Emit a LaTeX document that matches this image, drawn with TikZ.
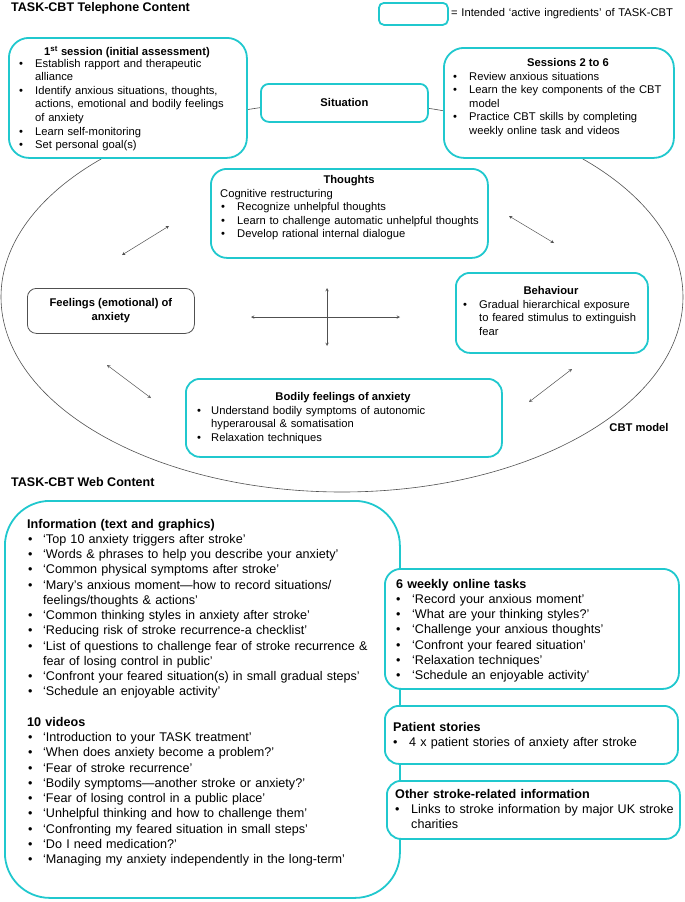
\documentclass[tikz,border=0pt]{standalone}
\usepackage{fontspec}
\setmainfont{Liberation Sans}
\definecolor{ingred}{RGB}{32,200,206}
\definecolor{lineg}{RGB}{80,80,80}
\newlength{\bind}\setlength{\bind}{16pt}
\newlength{\bpad}\setlength{\bpad}{0pt}
\newcommand{\bitem}[1]{\noindent\hangindent=\bind\hangafter=1\makebox[\bind][l]{\hspace{\bpad}\textbullet}#1\par}
\tikzset{
  ingr/.style={draw=ingred, line width=1.8pt, fill=white, anchor=north west, inner sep=0pt},
  plainbox/.style={draw=lineg, line width=0.8pt, fill=white, anchor=north west, inner sep=0pt},
  head/.style={anchor=base west, inner sep=0pt, font=\fontsize{12.5}{15}\selectfont\bfseries},
  teltxt/.style={anchor=base west, inner sep=0pt, text width=235pt, execute at begin node=\raggedright, font=\fontsize{11.2}{13.6}\selectfont},
  telhead/.style={anchor=base, inner sep=0pt, font=\fontsize{11.2}{13.6}\selectfont\bfseries},
  webtxt/.style={anchor=base west, inner sep=0pt, text width=290pt, execute at begin node=\raggedright, font=\fontsize{12.6}{15.25}\selectfont},
  dbl/.style={<->, lineg, line width=0.5pt}
}
\begin{document}
\begin{tikzpicture}[x=1pt,y=-1pt,>=stealth]
\useasboundingbox (0,0) rectangle (685,902);

% CBT model ring, drawn first so the boxes sit on it
\draw[lineg, line width=0.6pt] (342,297) ellipse [x radius=341, y radius=195];

% telephone part
\node[head] (telhead) at (11,11) {TASK-CBT Telephone Content};
\node[ingr, rounded corners=5pt, minimum width=69pt, minimum height=22pt] (key) at (378,2) {};
\node[teltxt, text width=240pt] (keytxt) at (451,16.5) {= Intended ‘active ingredients’ of TASK-CBT};

\node[ingr, rounded corners=20pt, minimum width=238pt, minimum height=120pt] (first) at (8,37) {};
\node[telhead] (firsthead) at (127,55) {1\textsuperscript{st} session (initial assessment)};
\node[teltxt] (firsttxt) at (19,67) {%
  \bitem{Establish rapport and therapeutic\newline alliance}
  \bitem{Identify anxious situations, thoughts,\newline actions, emotional and bodily feelings\newline of anxiety}
  \bitem{Learn self-monitoring}
  \bitem{Set personal goal(s)}};

\node[ingr, rounded corners=8pt, minimum width=167pt, minimum height=38pt] (situation) at (260,83) {};
\node[telhead, anchor=center] (sittxt) at (situation.center) {Situation};

\node[ingr, rounded corners=20pt, minimum width=230pt, minimum height=110pt] (sessions) at (443,47) {};
\node[telhead] (sesshead) at (568,66) {Sessions 2 to 6};
\node[teltxt, text width=215pt] (sesstxt) at (453,80) {%
  \bitem{Review anxious situations}
  \bitem{Learn the key components of the CBT\newline model}
  \bitem{Practice CBT skills by completing\newline weekly online task and videos}};

\node[ingr, rounded corners=16pt, minimum width=277pt, minimum height=89pt] (thoughts) at (210,168) {};
\node[telhead] (thhead) at (349,183) {Thoughts};
\node[teltxt] (thsub) at (220,197) {Cognitive restructuring};
\node[teltxt, text width=260pt] (thtxt) at (221,210.6) {%
  \bitem{Recognize unhelpful thoughts}
  \bitem{Learn to challenge automatic unhelpful thoughts}
  \bitem{Develop rational internal dialogue}};

\node[plainbox, rounded corners=9pt, minimum width=167pt, minimum height=45pt] (feelings) at (27,288) {};
\node[telhead, anchor=center, align=center] (feeltxt) at (feelings.center) {Feelings (emotional) of\\ anxiety};

\node[ingr, rounded corners=14pt, minimum width=192pt, minimum height=80pt] (behaviour) at (455,272) {};
\node[telhead] (behhead) at (551,294) {Behaviour};
\node[teltxt, text width=185pt] (behtxt) at (463,308) {%
  \bitem{Gradual hierarchical exposure\newline to feared stimulus to extinguish\newline fear}};

\node[ingr, rounded corners=14pt, minimum width=316pt, minimum height=78pt] (bodily) at (185,378) {};
\node[telhead] (bodhead) at (343,400) {Bodily feelings of anxiety};
\node[teltxt, text width=290pt] (bodtxt) at (197,414) {%
  \setlength{\bind}{14pt}%
  \bitem{Understand bodily symptoms of autonomic\newline hyperarousal \& somatisation}
  \bitem{Relaxation techniques}};

\node[telhead, anchor=center] (cbt) at (639,427) {CBT model};

% two-way links of the model
\coordinate (tla) at (169,226); \coordinate (tlb) at (122,255);
\coordinate (tra) at (509,216); \coordinate (trb) at (554,243);
\coordinate (bla) at (107,365); \coordinate (blb) at (151,398);
\coordinate (bra) at (572,369); \coordinate (brb) at (529,402);
\coordinate (hl) at (251,317); \coordinate (hr) at (400,317);
\coordinate (vt) at (327,288); \coordinate (vb) at (327,346);
\draw[dbl] (tla) -- (tlb);
\draw[dbl] (tra) -- (trb);
\draw[dbl] (bla) -- (blb);
\draw[dbl] (bra) -- (brb);
\draw[dbl] (hl) -- (hr);
\draw[dbl] (vt) -- (vb);

% web part
\node[head] (webhead) at (11,486.5) {TASK-CBT Web Content};
\node[ingr, rounded corners=45pt, minimum width=395pt, minimum height=397pt] (web) at (4,500) {};
\node[webtxt, text width=370pt] (info) at (27,528) {%
  \setlength{\bpad}{1pt}%
  {\bfseries Information (text and graphics)}\par
  \bitem{‘Top 10 anxiety triggers after stroke’}
  \bitem{‘Words \& phrases to help you describe your anxiety’}
  \bitem{‘Common physical symptoms after stroke’}
  \bitem{‘Mary’s anxious moment—how to record situations/\newline feelings/thoughts \& actions’}
  \bitem{‘Common thinking styles in anxiety after stroke’}
  \bitem{‘Reducing risk of stroke recurrence-a checklist’}
  \bitem{‘List of questions to challenge fear of stroke recurrence \&\newline fear of losing control in public’}
  \bitem{‘Confront your feared situation(s) in small gradual steps’}
  \bitem{‘Schedule an enjoyable activity’}
  \vspace{\baselineskip}\noindent
  {\bfseries 10 videos}\par
  \bitem{‘Introduction to your TASK treatment’}
  \bitem{‘When does anxiety become a problem?’}
  \bitem{‘Fear of stroke recurrence’}
  \bitem{‘Bodily symptoms—another stroke or anxiety?’}
  \bitem{‘Fear of losing control in a public place’}
  \bitem{‘Unhelpful thinking and how to challenge them’}
  \bitem{‘Confronting my feared situation in small steps’}
  \bitem{‘Do I need medication?’}
  \bitem{‘Managing my anxiety independently in the long-term’}};

\node[ingr, rounded corners=16pt, minimum width=294pt, minimum height=120pt] (tasks) at (384,568) {};
\node[webtxt] (taskstxt) at (396,588) {%
  {\bfseries 6 weekly online tasks}\par
  \bitem{‘Record your anxious moment’}
  \bitem{‘What are your thinking styles?’}
  \bitem{‘Challenge your anxious thoughts’}
  \bitem{‘Confront your feared situation’}
  \bitem{‘Relaxation techniques’}
  \bitem{‘Schedule an enjoyable activity’}};

\node[ingr, rounded corners=14pt, minimum width=293pt, minimum height=58pt] (stories) at (384,705) {};
\node[webtxt] (storiestxt) at (393,731) {%
  {\bfseries Patient stories}\par
  \bitem{4 x patient stories of anxiety after stroke}};

\node[ingr, rounded corners=14pt, minimum width=293pt, minimum height=58pt] (other) at (386,780) {};
\node[webtxt] (othertxt) at (395,798) {%
  {\bfseries Other stroke-related information}\par
  \bitem{Links to stroke information by major UK stroke\newline charities}};
\end{tikzpicture}
\end{document}
